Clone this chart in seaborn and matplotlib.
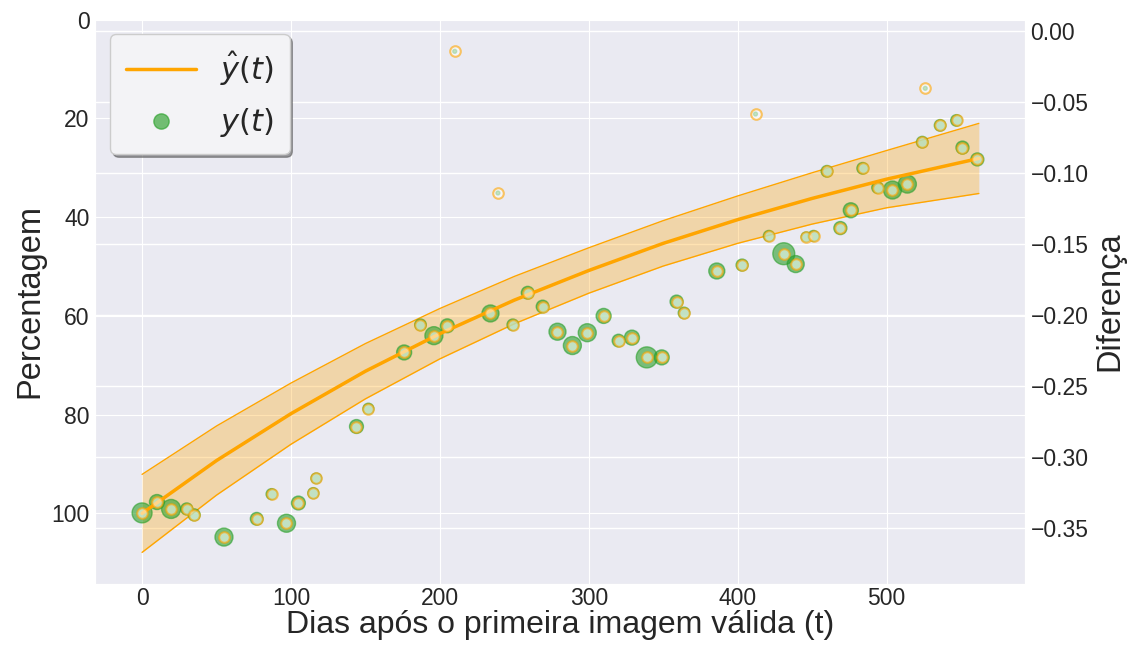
import numpy as np
import matplotlib
matplotlib.use("Agg")
import matplotlib.pyplot as plt
import seaborn as sns
from matplotlib.lines import Line2D

sns.set_style("darkgrid")
plt.rcParams['font.family'] = ['Liberation Sans', 'DejaVu Sans']

# curva ajustada y banda (leidas do grafico)
t_fit = [0, 50, 100, 150, 200, 250, 300, 350, 400, 450, 500, 562]
y_fit = [100.0, 89.3, 79.8, 71.2, 63.6, 56.8, 50.8, 45.3, 40.5, 36.2, 32.3, 28.1]
y_lo = [92.1, 82.3, 73.6, 65.6, 58.5, 52.0, 46.2, 40.7, 35.7, 31.0, 26.5, 21.0]
y_hi = [107.9, 96.3, 86.0, 76.8, 68.7, 61.6, 55.4, 49.9, 45.3, 41.4, 38.1, 35.2]

# observacoes
t_obs = [0, 10, 19.5, 30, 35, 55, 77, 87, 97, 105, 115, 117,
         144, 152, 176, 187, 196, 205, 210, 234, 239, 249, 259, 269,
         279, 289, 299, 310, 320, 329, 339, 349, 359, 364,
         386, 403, 412, 421, 431, 439, 446, 451, 460, 469, 476, 484,
         494, 504, 514, 524, 526, 536, 547, 551, 561]
y_obs = [99.9, 97.7, 99.1, 99.1, 100.3, 104.8, 101.1, 96.1, 102.0, 97.9, 95.9, 92.9,
         82.4, 78.8, 67.4, 61.8, 64.0, 62.0, 6.4, 59.5, 35.1, 61.8, 55.3, 58.1,
         63.2, 66.0, 63.4, 60.0, 65.0, 64.4, 68.4, 68.4, 57.1, 59.4,
         50.9, 49.7, 19.1, 43.8, 47.4, 49.5, 44.0, 43.8, 30.7, 42.2, 38.6, 30.1,
         34.0, 34.5, 33.3, 24.8, 13.9, 21.4, 20.4, 25.9, 28.3]
# tamanho dos pontos (area)
area_obs = [207, 117, 187, 75, 75, 168, 84, 63, 168, 100, 63, 59,
            100, 63, 117, 70, 168, 100, 8, 150, 8, 70, 84, 84,
            150, 168, 168, 117, 84, 117, 230, 117, 88, 70,
            133, 75, 8, 63, 250, 150, 52, 63, 70, 88, 117, 70,
            70, 168, 168, 70, 8, 70, 70, 88, 88]

fig, ax = plt.subplots(figsize=(11.38, 6.48), dpi=100)
fig.subplots_adjust(left=0.0835, right=0.9007, bottom=0.0988, top=0.9707)
ax2 = ax.twinx()
ax2.grid(True, color='white', lw=1)
ax2.patch.set_visible(True)
ax2.set_facecolor('#EAEAF2')
ax.set_zorder(ax2.get_zorder() + 1)
ax.patch.set_visible(False)

# banda
ax.fill_between(t_fit, y_lo, y_hi, facecolor=(1, 0.647, 0, 0.3), linewidth=0)
ax.plot(t_fit, y_lo, color='orange', lw=1)
ax.plot(t_fit, y_hi, color='orange', lw=1)

sns.scatterplot(x=t_obs, y=y_obs, size=area_obs, sizes=(min(area_obs), max(area_obs)),
                color='tab:green', alpha=0.6, edgecolor='tab:green', linewidth=1,
                legend=False, ax=ax, zorder=3)
sns.lineplot(x=t_fit, y=y_fit, color='orange', lw=2.5, ax=ax, zorder=4)
ax.scatter(t_obs, y_obs, s=58, facecolors=(1, 1, 1, 0.55),
           edgecolors=(1, 0.647, 0, 0.6), linewidths=1.5, zorder=5)

ax.set_xlim(-31.6, 593)
ax.set_ylim(114.3, -0.15)
ax.set_yticks([0, 20, 40, 60, 80, 100])
ax.set_xticks([0, 100, 200, 300, 400, 500])
ax2.set_ylim(-0.3892, 0.0087)
ax2.set_yticks([0.0, -0.05, -0.10, -0.15, -0.20, -0.25, -0.30, -0.35])

ax.tick_params(labelsize=16.5, length=0, pad=4)
ax.tick_params(axis='x', pad=2)
ax2.tick_params(labelsize=16.5, length=0, pad=4)
ax.set_xlabel('Dias após o primeira imagem válida (t)', fontsize=23, labelpad=0)
ax.set_ylabel('Percentagem', fontsize=23.5)
ax2.set_ylabel('Diferença', fontsize=23.5)

handles = [Line2D([0], [0], color='orange', lw=2.5),
           Line2D([0], [0], marker='o', ls='', markersize=11,
                  markerfacecolor=(0.17, 0.63, 0.17, 0.65), markeredgecolor=(0.17, 0.63, 0.17, 0.65))]
leg = ax.legend(handles, [r'$\hat{y}(t)$', r'$y(t)$'], loc='upper left', fontsize=22,
                shadow=True, handlelength=2.3, borderpad=0.5, labelspacing=0.6,
                facecolor='#f3f3f6', edgecolor='#cccccc', framealpha=1)

fig.savefig('out.png', dpi=100)
